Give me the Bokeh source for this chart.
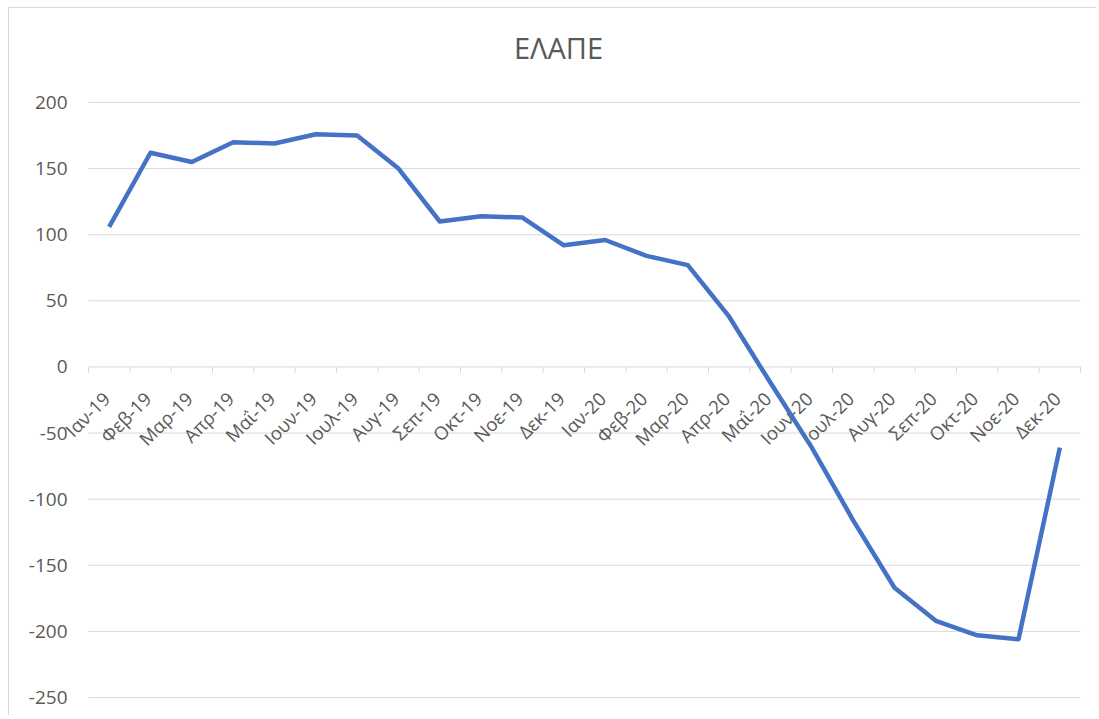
import math
from bokeh.plotting import figure
from bokeh.models import Range1d
from bokeh.embed import file_html
from bokeh.resources import INLINE
from bokeh.core.properties import value

months = ["Ιαν-19", "Φεβ-19", "Μαρ-19", "Απρ-19", "Μαΐ-19", "Ιουν-19",
          "Ιουλ-19", "Αυγ-19", "Σεπ-19", "Οκτ-19", "Νοε-19", "Δεκ-19",
          "Ιαν-20", "Φεβ-20", "Μαρ-20", "Απρ-20", "Μαΐ-20", "Ιουν-20",
          "Ιουλ-20", "Αυγ-20", "Σεπ-20", "Οκτ-20", "Νοε-20", "Δεκ-20"]
values = [106, 162, 155, 170, 169, 176, 175, 150, 110, 114, 113, 92,
          96, 84, 77, 38, -12, -61, -116, -167, -192, -203, -206, -61]
y_ticks = [-250, -200, -150, -100, -50, 0, 50, 100, 150, 200]
y_labels = ["-250", "-200", "-150", "-100", "-50", "0", "50", "100", "150", "200"]
title_text = "ΕΛΑΠΕ"

FONT = "Open Sans"
GREY = "#595959"
GRID = "#D9D9D9"

n = len(months)
xs = [i + 0.5 for i in range(n)]          # category centres
bounds = list(range(n + 1))              # category boundaries (tick marks)

# canvas geometry (pixels) -> data ranges, so that the plot area sits where
# the reference has it while labels outside it are not clipped
W, H = 1088, 708
left, right, top, bottom = 79, 1071, 94, 689
sx = (right - left) / n
sy = (bottom - top) / (y_ticks[-1] - y_ticks[0])
x_range = Range1d(-left / sx, n + (W - right) / sx)
y_range = Range1d(y_ticks[0] - (H - bottom) / sy, y_ticks[-1] + top / sy)

p = figure(width=W, height=H, output_backend="svg", toolbar_location=None,
           title=None, x_range=x_range, y_range=y_range, min_border=0)
p.styles = {"margin-left": "8px", "margin-top": "7px",
            "border-top": "1px solid #D9D9D9", "border-left": "1px solid #D9D9D9"}
p.outline_line_color = None
p.background_fill_color = "white"
p.border_fill_color = "white"
p.axis.visible = False
p.grid.visible = False

# horizontal gridlines over the category span
p.segment(x0=[0] * len(y_ticks), y0=y_ticks, x1=[n] * len(y_ticks), y1=y_ticks,
          line_color=GRID, line_width=1)

# category axis crossing at zero: tick marks between categories
p.segment(x0=bounds, y0=[0] * len(bounds), x1=bounds, y1=[-4.5] * len(bounds),
          line_color=GRID, line_width=1)

# value axis labels
p.text(x=[0] * len(y_ticks), y=y_ticks, text=y_labels, x_offset=-21,
       text_align="right", text_baseline="middle",
       text_font=value(FONT), text_font_size="19px", text_color=GREY)

# category labels, rotated
p.text(x=xs, y=[0] * n, text=months, angle=math.pi / 4,
       text_align="right", text_baseline="middle", x_offset=-3, y_offset=28,
       text_font=value(FONT), text_font_size="18.5px", text_color=GREY)

# data line
p.line(x=xs, y=values, line_color="#4472C4", line_width=4.5, line_join="round")

# chart title
p.text(x=[11.37], y=[241.5], text=[title_text], text_align="center",
       text_baseline="middle", text_font=value(FONT), text_font_size="29px",
       text_color=GREY)

open("out.html", "w").write(file_html(p, INLINE))
